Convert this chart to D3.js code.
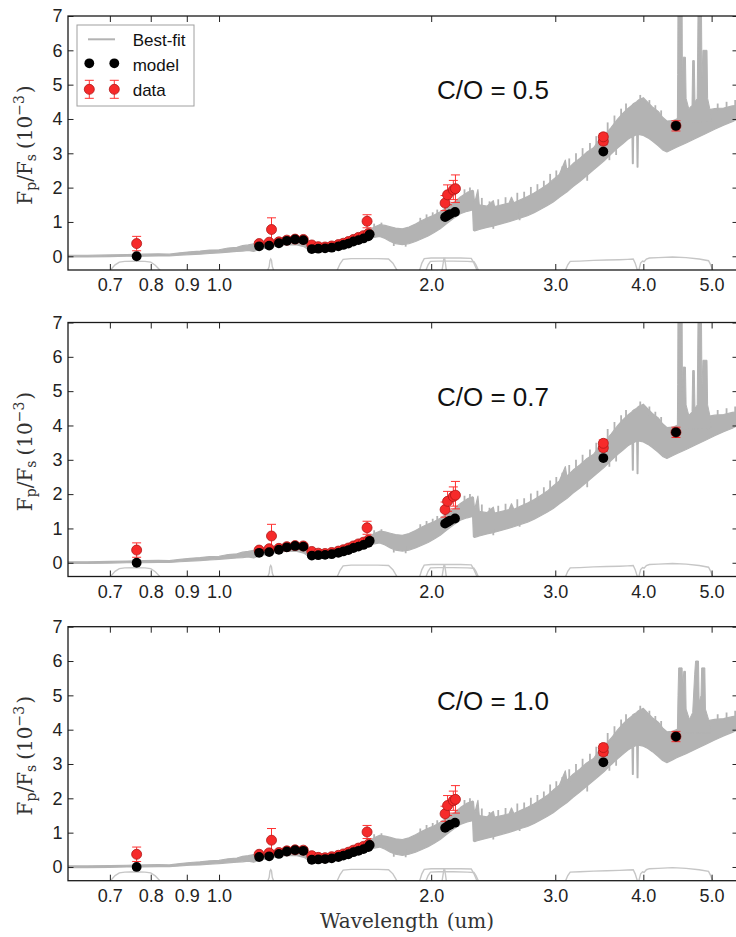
<!DOCTYPE html>
<html>
<head>
<meta charset="utf-8">
<script src="https://cdn.jsdelivr.net/npm/d3@7"></script>
<style>
  body { margin: 0; background: #fff; }
  svg { display: block; }
</style>
</head>
<body>
<svg id="chart" width="736" height="937"></svg>
<script>
// ---------------- data ----------------
const panelLabels = ["C/O = 0.5", "C/O = 0.7", "C/O = 1.0"];
const xTickValues = [0.7, 0.8, 0.9, 1.0, 2.0, 3.0, 4.0, 5.0];
const xTickLabels = ["0.7", "0.8", "0.9", "1.0", "2.0", "3.0", "4.0", "5.0"];
const yTickValues = [0, 1, 2, 3, 4, 5, 6, 7];

// best-fit emission spectrum (Fp/Fs, 1e-3): lower / upper envelope of the high-resolution model
const specWave = [0.610, 0.650, 0.700, 0.740, 0.780, 0.820, 0.850, 0.880, 0.910, 0.940, 0.970, 1.000,
  1.030, 1.060, 1.080, 1.100, 1.120, 1.140, 1.170, 1.210, 1.250, 1.290, 1.320, 1.345, 1.380, 1.420,
  1.460, 1.500, 1.540, 1.580, 1.620, 1.660, 1.690, 1.720, 1.750, 1.780, 1.820, 1.860, 1.900, 1.940,
  1.980, 2.020, 2.060, 2.100, 2.150, 2.200, 2.250, 2.290, 2.296, 2.305, 2.330, 2.340, 2.400, 2.450,
  2.460, 2.520, 2.580, 2.600, 2.620, 2.680, 2.740, 2.800, 2.860, 2.920, 2.980, 3.040, 3.100, 3.115,
  3.180, 3.250, 3.320, 3.400, 3.460, 3.520, 3.600, 3.680, 3.740, 3.800, 3.855, 3.860, 3.870, 3.875,
  3.915, 3.920, 3.930, 3.935, 4.000, 4.060, 4.120, 4.200, 4.260, 4.320, 4.400, 4.460, 4.600, 4.750,
  4.900, 5.050, 5.200, 5.350, 5.450];
const specLow = [-0.02, -0.02, -0.01, 0.00, 0.00, 0.01, 0.01, 0.03, 0.05, 0.06, 0.08, 0.10,
  0.12, 0.14, 0.15, 0.17, 0.14, 0.20, 0.24, 0.30, 0.34, 0.33, 0.28, 0.17, 0.15, 0.16,
  0.20, 0.25, 0.32, 0.40, 0.48, 0.55, 0.58, 0.52, 0.43, 0.37, 0.34, 0.37, 0.43, 0.51,
  0.59, 0.69, 0.80, 0.94, 1.10, 1.24, 1.31, 1.35, 0.76, 0.74, 0.77, 0.78, 0.84, 0.88,
  0.89, 0.95, 1.01, 1.03, 1.05, 1.12, 1.18, 1.27, 1.37, 1.47, 1.58, 1.72, 1.84, 1.87,
  2.03, 2.18, 2.34, 2.52, 2.65, 2.78, 2.98, 3.16, 3.28, 3.40, 3.48, 2.70, 2.70, 3.50,
  3.55, 2.60, 2.60, 3.55, 3.52, 3.45, 3.36, 3.22, 3.10, 3.04, 3.12, 3.18, 3.30, 3.44,
  3.57, 3.70, 3.82, 3.92, 4.00];
const specHigh = [0.03, 0.03, 0.04, 0.05, 0.06, 0.07, 0.06, 0.10, 0.13, 0.15, 0.18, 0.19,
  0.24, 0.26, 0.31, 0.33, 0.36, 0.33, 0.40, 0.45, 0.50, 0.51, 0.47, 0.33, 0.28, 0.30,
  0.35, 0.41, 0.50, 0.60, 0.72, 0.85, 0.92, 0.90, 0.86, 0.82, 0.80, 0.85, 0.94, 1.04,
  1.13, 1.20, 1.30, 1.42, 1.56, 1.73, 1.86, 1.92, 1.90, 1.55, 1.94, 1.50, 1.46, 1.62,
  1.45, 1.50, 1.55, 1.72, 1.56, 1.65, 1.74, 1.84, 1.96, 2.08, 2.24, 2.38, 2.80, 2.52,
  2.70, 2.85, 3.02, 3.16, 3.38, 3.52, 3.75, 4.00, 4.16, 4.30, 4.40, 4.42, 4.44, 4.45,
  4.50, 4.52, 4.54, 4.55, 4.62, 4.48, 4.35, 4.22, 4.05, 3.94, 3.95, 4.00, 4.10, 4.18,
  4.25, 4.30, 4.32, 4.38, 4.40];

// unresolved molecular lines poking out of the band (wavelength, bottom, top)
const lineWave = [1.660, 1.700, 1.770, 1.840, 1.930, 1.970, 2.010, 2.040, 2.230, 2.270,
  2.360, 2.420, 2.450, 2.490, 2.550, 2.650, 2.670, 2.710, 2.770, 2.830, 2.890, 2.950,
  3.010, 3.070, 3.140, 3.210, 3.280, 3.330, 3.360, 3.430, 3.560, 3.580, 3.640, 3.660,
  3.720, 3.780, 3.960, 4.080, 4.160, 4.240, 5.100, 5.250, 5.400];
const lineLo = [0.75, 0.80, 0.30, 0.28, 0.95, 1.05, 1.12, 1.20, 1.75, 1.80,
  1.40, 1.40, 0.80, 1.42, 1.48, 1.58, 1.05, 1.65, 1.72, 1.80, 1.95, 2.10,
  2.25, 2.35, 2.50, 2.65, 2.85, 2.20, 3.00, 3.20, 3.60, 2.80, 3.80, 2.95,
  4.05, 4.20, 4.50, 4.30, 4.20, 4.05, 4.25, 4.30, 4.35];
const lineHi = [0.95, 0.98, 0.50, 0.50, 1.12, 1.22, 1.28, 1.36, 1.95, 2.00,
  1.70, 1.60, 1.00, 1.66, 1.72, 1.85, 1.30, 1.88, 2.02, 2.10, 2.20, 2.40,
  2.50, 2.62, 2.85, 3.00, 3.15, 2.50, 3.30, 3.50, 3.90, 3.10, 4.10, 3.30,
  4.30, 4.45, 4.70, 4.55, 4.40, 4.25, 4.45, 4.50, 4.55];

// CO / CH4 emission features between 4.4 and 5.0 um, one set per C/O ratio
const spikeBase = 3.9;
const spikeWave05 = [4.470, 4.475, 4.480, 4.540, 4.545, 4.555, 4.590, 4.600, 4.640, 4.690, 4.700,
  4.725, 4.735, 4.770, 4.785, 4.835, 4.845, 4.860, 4.925, 4.935, 4.970, 5.000];
const spikeTop05 = [3.9, 5.3, 7.6, 7.6, 5.0, 5.8, 5.8, 4.6, 4.3, 4.4, 5.7,
  5.7, 4.5, 4.6, 7.6, 7.6, 5.2, 6.0, 6.0, 4.6, 4.3, 3.9];
const spikeWave07 = [4.470, 4.475, 4.480, 4.540, 4.545, 4.555, 4.590, 4.600, 4.640, 4.690, 4.700,
  4.725, 4.735, 4.770, 4.785, 4.835, 4.845, 4.860, 4.925, 4.935, 4.970, 5.000];
const spikeTop07 = [3.9, 5.2, 7.6, 7.6, 5.0, 5.7, 5.7, 4.6, 4.3, 4.4, 5.6,
  5.6, 4.5, 4.6, 7.6, 7.6, 5.1, 5.9, 5.9, 4.6, 4.3, 3.9];
const spikeWave10 = [4.470, 4.480, 4.490, 4.540, 4.550, 4.565, 4.590, 4.600, 4.650, 4.700, 4.730,
  4.745, 4.790, 4.800, 4.830, 4.840, 4.890, 4.900, 4.950, 5.000];
const spikeTop10 = [3.9, 5.0, 5.8, 5.8, 5.2, 5.7, 5.7, 4.6, 4.3, 4.5, 5.6,
  6.0, 6.0, 4.8, 5.0, 5.8, 5.8, 4.6, 4.3, 3.9];

// binned model at the observed bandpasses
const modelWave = [0.764, 1.140, 1.178, 1.216, 1.248, 1.282, 1.317, 1.354, 1.383, 1.414, 1.445,
  1.477, 1.501, 1.526, 1.551, 1.577, 1.603, 1.629, 1.636, 2.093, 2.110, 2.127, 2.162, 3.510, 4.450];
const modelVal = [0.00, 0.29, 0.31, 0.38, 0.45, 0.49, 0.47, 0.21, 0.22, 0.23, 0.25,
  0.29, 0.33, 0.37, 0.43, 0.47, 0.52, 0.58, 0.64, 1.14, 1.19, 1.23, 1.29, 3.05, 3.80];

// observed eclipse depths with 1-sigma uncertainties
const dataWave = [0.764, 1.140, 1.178, 1.187, 1.216, 1.248, 1.282, 1.317, 1.354, 1.383, 1.414,
  1.445, 1.477, 1.501, 1.526, 1.551, 1.577, 1.603, 1.629, 1.622, 2.093, 2.110, 2.150, 2.165,
  3.510, 3.510, 4.450];
const dataVal = [0.37, 0.37, 0.41, 0.78, 0.42, 0.47, 0.50, 0.49, 0.33, 0.28, 0.27,
  0.30, 0.34, 0.38, 0.43, 0.49, 0.55, 0.60, 0.66, 1.02, 1.55, 1.79, 1.93, 1.97,
  3.35, 3.48, 3.80];
const dataErr = [0.21, 0.05, 0.05, 0.34, 0.05, 0.05, 0.05, 0.05, 0.05, 0.05, 0.05,
  0.05, 0.05, 0.05, 0.05, 0.05, 0.05, 0.05, 0.05, 0.19, 0.22, 0.29, 0.28, 0.40,
  0.10, 0.10, 0.15];

// filter transmission curves, shown in the strip below zero
const iWave = [0.700, 0.712, 0.722, 0.735, 0.760, 0.785, 0.800, 0.812, 0.826];
const iResp = [-0.42, -0.25, -0.17, -0.15, -0.14, -0.15, -0.17, -0.26, -0.42];
const n119Wave = [1.172, 1.178, 1.181, 1.184, 1.187, 1.190, 1.196];
const n119Resp = [-0.42, -0.30, -0.12, -0.08, -0.12, -0.30, -0.42];
const hWave = [1.470, 1.485, 1.500, 1.540, 1.600, 1.680, 1.740, 1.765, 1.790];
const hResp = [-0.42, -0.22, -0.09, -0.07, -0.07, -0.07, -0.08, -0.20, -0.42];
const kWave = [1.925, 1.940, 1.955, 2.000, 2.100, 2.200, 2.280, 2.300, 2.325];
const kResp = [-0.42, -0.20, -0.07, -0.05, -0.05, -0.05, -0.06, -0.20, -0.42];
const ksWave = [1.965, 1.980, 1.995, 2.050, 2.150, 2.250, 2.300, 2.315, 2.335];
const ksResp = [-0.42, -0.25, -0.15, -0.14, -0.14, -0.15, -0.16, -0.25, -0.42];
const n209Wave = [2.072, 2.080, 2.085, 2.090, 2.095, 2.102];
const n209Resp = [-0.42, -0.20, -0.06, -0.06, -0.20, -0.42];
const ch1Wave = [3.100, 3.125, 3.150, 3.250, 3.400, 3.550, 3.700, 3.800, 3.870, 3.895, 3.925];
const ch1Resp = [-0.42, -0.25, -0.15, -0.14, -0.12, -0.11, -0.10, -0.09, -0.08, -0.20, -0.42];
const ch2Wave = [3.940, 3.965, 3.990, 4.010, 4.040, 4.080, 4.200, 4.400, 4.600, 4.800, 4.950, 4.985, 5.020];
const ch2Resp = [-0.42, -0.20, -0.14, -0.16, -0.08, -0.05, -0.04, -0.02, -0.04, -0.08, -0.13, -0.25, -0.42];

// ---------------- layout ----------------
const plotLeft = 68, plotRight = 738;
const panelTops = [16, 322.5, 626.7];
const panelH = 254;

const spikeSets = [
  [spikeWave05, spikeTop05],
  [spikeWave07, spikeTop07],
  [spikeWave10, spikeTop10]
];
const filters = [
  [iWave, iResp], [n119Wave, n119Resp], [hWave, hResp], [kWave, kResp],
  [ksWave, ksResp], [n209Wave, n209Resp], [ch1Wave, ch1Resp], [ch2Wave, ch2Resp]
];

const svg = d3.select("#chart");
const x = d3.scaleLog().domain([0.6105, 5.45]).range([plotLeft, plotRight]);

const sansFont = "'Liberation Sans', Arial, sans-serif";
const serifFont = "'DejaVu Serif', serif";
const specColor = "#b3b3b3";

const spec = specWave.map((w, i) => ({ w, lo: specLow[i], hi: specHigh[i] }));
const lines = lineWave.map((w, i) => ({ w, lo: lineLo[i], hi: lineHi[i] }));
const model = modelWave.map((w, i) => ({ w, v: modelVal[i] }));
const data = dataWave.map((w, i) => ({ w, v: dataVal[i], e: dataErr[i] }));

panelTops.forEach((top, p) => {
  const bottom = top + panelH;
  const y = d3.scaleLinear().domain([-0.4, 7]).range([bottom, top]);
  const g = svg.append("g");

  const clipId = "clip" + p;
  svg.append("clipPath").attr("id", clipId)
    .append("rect").attr("x", plotLeft).attr("y", top)
    .attr("width", plotRight - plotLeft).attr("height", panelH);

  const inner = g.append("g").attr("clip-path", `url(#${clipId})`);

  // best-fit spectrum band
  const band = d3.area().x(d => x(d.w)).y0(d => y(d.lo)).y1(d => y(d.hi));
  inner.append("path").datum(spec).attr("d", band)
    .attr("fill", specColor).attr("stroke", specColor).attr("stroke-width", 1.2)
    .attr("stroke-linejoin", "round");

  inner.append("g").selectAll("line").data(lines).join("line")
    .attr("x1", d => x(d.w)).attr("x2", d => x(d.w))
    .attr("y1", d => y(d.lo)).attr("y2", d => y(d.hi))
    .attr("stroke", specColor).attr("stroke-width", 1.8);

  const [sw, st] = spikeSets[p];
  const spikes = sw.map((w, i) => ({ w, hi: st[i] }));
  const spikeArea = d3.area().x(d => x(d.w)).y0(y(spikeBase)).y1(d => y(d.hi));
  inner.append("path").datum(spikes).attr("d", spikeArea)
    .attr("fill", specColor).attr("stroke", specColor).attr("stroke-width", 1);

  // filter curves
  const fLine = d3.line().x(d => x(d[0])).y(d => y(d[1]));
  filters.forEach(([fw, fr]) => {
    inner.append("path").datum(fw.map((w, i) => [w, fr[i]]))
      .attr("d", fLine).attr("fill", "none")
      .attr("stroke", "#c6c6c6").attr("stroke-width", 1.4);
  });

  // observed points with error bars
  const dg = inner.append("g");
  data.forEach(d => {
    const cx = x(d.w);
    dg.append("line").attr("x1", cx).attr("x2", cx)
      .attr("y1", y(d.v - d.e)).attr("y2", y(d.v + d.e))
      .attr("stroke", "#ff3030").attr("stroke-width", 1);
    [d.v - d.e, d.v + d.e].forEach(v => {
      dg.append("line").attr("x1", cx - 4.5).attr("x2", cx + 4.5)
        .attr("y1", y(v)).attr("y2", y(v))
        .attr("stroke", "#ff3030").attr("stroke-width", 1);
    });
  });
  dg.selectAll("circle").data(data).join("circle")
    .attr("cx", d => x(d.w)).attr("cy", d => y(d.v)).attr("r", 5)
    .attr("fill", "#f62a2a").attr("stroke", "#b01818").attr("stroke-width", 0.8);

  // model points
  inner.append("g").selectAll("circle").data(model).join("circle")
    .attr("cx", d => x(d.w)).attr("cy", d => y(d.v)).attr("r", 4.9)
    .attr("fill", "#000");

  // axes (ticks pointing inward on all four sides)
  const styleAxis = sel => {
    sel.select(".domain").remove();
    sel.selectAll(".tick line").attr("stroke", "#222").attr("stroke-width", 1);
    sel.selectAll("text").attr("font-family", sansFont).attr("font-size", 18).attr("fill", "#222");
  };
  g.append("g").attr("transform", `translate(0,${bottom})`)
    .call(d3.axisBottom(x).tickValues(xTickValues).tickFormat((d, i) => xTickLabels[i])
      .tickSizeInner(-6).tickSizeOuter(0).tickPadding(8.7))
    .call(styleAxis);
  g.append("g").attr("transform", `translate(0,${top})`)
    .call(d3.axisTop(x).tickValues(xTickValues).tickFormat("")
      .tickSizeInner(-6).tickSizeOuter(0))
    .call(styleAxis);
  g.append("g").attr("transform", `translate(${plotLeft},0)`)
    .call(d3.axisLeft(y).tickValues(yTickValues).tickFormat(d3.format("d"))
      .tickSizeInner(-5.5).tickSizeOuter(0).tickPadding(5.5))
    .call(styleAxis);
  g.append("g").attr("transform", `translate(${plotRight},0)`)
    .call(d3.axisRight(y).tickValues(yTickValues).tickFormat("")
      .tickSizeInner(-5.5).tickSizeOuter(0))
    .call(styleAxis);

  // frame
  g.append("rect").attr("x", plotLeft).attr("y", top)
    .attr("width", plotRight - plotLeft).attr("height", panelH)
    .attr("fill", "none").attr("stroke", "#1a1a1a").attr("stroke-width", 1.3);

  // C/O annotation
  g.append("text").attr("x", 437).attr("y", top + 83.3)
    .attr("font-family", sansFont).attr("font-size", 26).attr("fill", "#111")
    .text(panelLabels[p]);

  // y label
  const yl = g.append("text")
    .attr("transform", `translate(31.5,${top + panelH / 2 + 2}) rotate(-90)`)
    .attr("text-anchor", "middle").attr("font-family", serifFont)
    .attr("font-size", 20).attr("fill", "#333");
  yl.append("tspan").text("F");
  yl.append("tspan").attr("font-size", 14).attr("dy", 4).text("p");
  yl.append("tspan").attr("dy", -4).text("/F");
  yl.append("tspan").attr("font-size", 14).attr("dy", 4).text("s");
  yl.append("tspan").attr("dy", -4).attr("dx", 5).text("(10");
  yl.append("tspan").attr("font-size", 14).attr("dy", -8).text("\u22123");
  yl.append("tspan").attr("dy", 8).attr("dx", 2).text(")");

  // legend (top panel only)
  if (p === 0) {
    const lg = g.append("g");
    lg.append("rect").attr("x", 77).attr("y", top + 9).attr("width", 117).attr("height", 81)
      .attr("fill", "#fff").attr("stroke", "#a0a0a0").attr("stroke-width", 1);
    lg.append("line").attr("x1", 88).attr("x2", 115).attr("y1", top + 23.3).attr("y2", top + 23.3)
      .attr("stroke", specColor).attr("stroke-width", 2);
    [89.3, 114.3].forEach(cx => {
      lg.append("circle").attr("cx", cx).attr("cy", top + 47.3).attr("r", 4.9).attr("fill", "#000");
      lg.append("line").attr("x1", cx).attr("x2", cx).attr("y1", top + 64.3).attr("y2", top + 82.3)
        .attr("stroke", "#ff3030").attr("stroke-width", 1);
      [top + 64.3, top + 82.3].forEach(yy => {
        lg.append("line").attr("x1", cx - 4.5).attr("x2", cx + 4.5).attr("y1", yy).attr("y2", yy)
          .attr("stroke", "#ff3030").attr("stroke-width", 1);
      });
      lg.append("circle").attr("cx", cx).attr("cy", top + 73.3).attr("r", 5)
        .attr("fill", "#f62a2a").attr("stroke", "#b01818").attr("stroke-width", 0.8);
    });
    [["Best-fit", 29.7], ["model", 55], ["data", 79.7]].forEach(([t, dy]) => {
      lg.append("text").attr("x", 132.7).attr("y", top + dy)
        .attr("font-family", sansFont).attr("font-size", 17).attr("fill", "#111").text(t);
    });
  }

  // x label (bottom panel only)
  if (p === panelTops.length - 1) {
    const xl = g.append("text").attr("x", 407).attr("y", 928)
      .attr("text-anchor", "middle").attr("font-family", serifFont)
      .attr("font-size", 20).attr("fill", "#333");
    xl.append("tspan").text("Wavelength");
    xl.append("tspan").attr("dx", 8).text("(um)");
  }
});
</script>
</body>
</html>
